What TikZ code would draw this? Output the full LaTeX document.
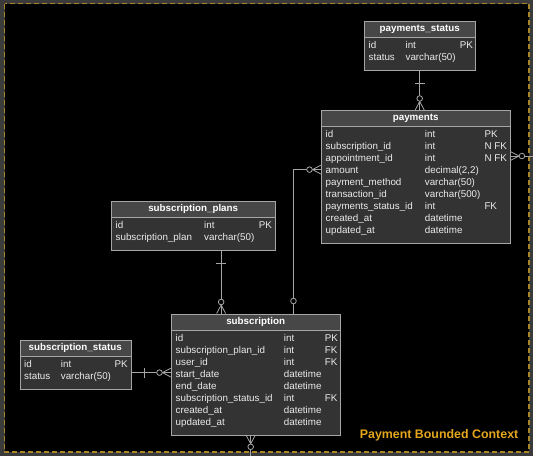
\documentclass[tikz,border=0pt]{standalone}
\usepackage{fontspec}
\setmainfont{Liberation Sans}
\usepackage{array}
\usetikzlibrary{positioning,calc}

\definecolor{hdrc}{HTML}{474747}
\definecolor{bdyc}{HTML}{333333}
\definecolor{linec}{HTML}{A6A6A6}
\definecolor{ctxc}{HTML}{E3A61C}
\definecolor{framec}{HTML}{A88526}
\definecolor{outerc}{HTML}{3B3B3B}

\tikzset{
  hdr/.style={draw=linec, fill=hdrc, text=white, font=\fontsize{9.8}{12}\selectfont\bfseries, minimum height=16pt, inner sep=0pt},
  bdy/.style={draw=linec, fill=bdyc, text=white!92!black, font=\fontsize{9.8}{12}\selectfont, inner xsep=0pt, inner ysep=2.5pt},
  rel/.style={draw=linec, line width=0.8pt, allow upside down},
  crow/.pic={\draw[linec, line width=0.8pt] (0,4.5) -- (-8.5,0) -- (0,-4.5);
    \draw[linec, line width=0.8pt, fill=black] (-11.5,0) circle[radius=2.8];},
  one/.pic={\draw[linec, line width=0.8pt] (13,-5) -- (13,5);},
  zero/.pic={\draw[linec, line width=0.8pt, fill=black] (12.5,0) circle[radius=2.8];}
}

\newcommand{\ertable}[7]{%
  \node[hdr, minimum width=#3, anchor=north west] (#1) at (#2) {#6};
  \node[bdy, anchor=north] (#1b) at (#1.south) {\begin{tabular}{@{\hspace{4.5pt}}p{#4}@{}p{#5}@{}p{\dimexpr#3-4.5pt-#4-#5\relax}@{}}#7\\[4pt]\end{tabular}};}

\begin{document}
\begin{tikzpicture}[x=1pt, y=-1pt]
  \useasboundingbox (0,0) rectangle (533,456);
  \fill[outerc] (0,0) rectangle (533,456);
  \draw[framec, fill=black, line width=1.2pt, dash pattern=on 5pt off 3pt] (4.5,3.5) rectangle (529,452);

  \ertable{ps}{364,21}{111pt}{36.9pt}{54.3pt}{payments\_status}{id & int & PK\\ status & varchar(50) &}
  \ertable{p}{321,110}{189pt}{99.2pt}{59.6pt}{payments}{id & int & PK\\ subscription\_id & int & N FK\\ appointment\_id & int & N FK\\ amount & decimal(2,2) &\\ payment\_method & varchar(50) &\\ transaction\_id & varchar(500) &\\ payments\_status\_id & int & FK\\ created\_at & datetime &\\ updated\_at & datetime &}
  \ertable{sp}{111,201}{164pt}{88.5pt}{54.7pt}{subscription\_plans}{id & int & PK\\ subscription\_plan & varchar(50) &}
  \ertable{s}{171,313.5}{169pt}{108.2pt}{41pt}{subscription}{id & int & PK\\ subscription\_plan\_id & int & FK\\ user\_id & int & FK\\ start\_date & datetime &\\ end\_date & datetime &\\ subscription\_status\_id & int & FK\\ created\_at & datetime &\\ updated\_at & datetime &}
  \ertable{ss}{19.5,339.5}{111pt}{36.7pt}{53.6pt}{subscription\_status}{id & int & PK\\ status & varchar(50) &}

  \node[font=\fontsize{12.4}{14}\selectfont\bfseries, text=ctxc, inner sep=0pt, anchor=east] (ctx) at (518.5,435.7) {Payment Bounded Context};

  \coordinate (c1) at ($(spb.south west)!.67!(spb.south east)$);
  \coordinate (c2) at ($(s.north west)!.723!(s.north east)$);
  \coordinate (e1) at (533,156);
  \coordinate (e2) at (250.7,456);

  \draw[rel] (psb.south) -- pic[pos=0,sloped]{one} pic[pos=1,sloped]{crow} (psb.south |- p.north);
  \draw[rel] (c1) -- pic[pos=0,sloped]{one} pic[pos=1,sloped]{crow} (c1 |- s.north);
  \draw[rel] (ssb.east) -- pic[pos=0,sloped]{one} pic[pos=1,sloped]{crow} (ssb.east -| sb.west);
  \draw[rel] (c2) |- pic[pos=0,sloped]{zero} pic[pos=1,sloped]{crow} ([yshift=15.5pt]pb.west);
  \draw[rel] (e1) -- pic[pos=1,sloped]{crow} (e1 -| pb.east);
  \draw[rel] (e2) -- pic[pos=1,sloped]{crow} (e2 |- sb.south);
\end{tikzpicture}
\end{document}
